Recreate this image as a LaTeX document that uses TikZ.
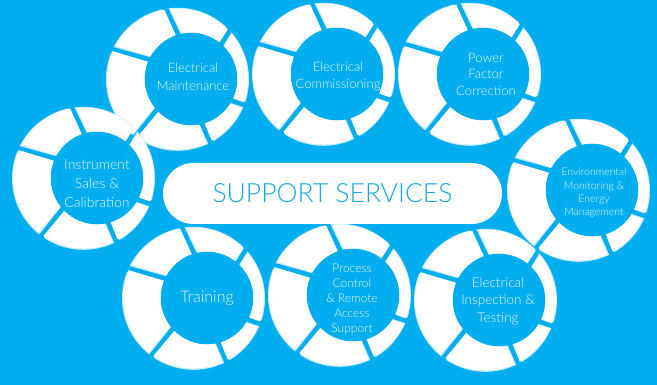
\documentclass[tikz,border=0pt]{standalone}
\usepackage{fontspec}
\setmainfont{Lato Light}
\definecolor{bgblue}{RGB}{0,174,239}
\definecolor{ringshadow}{RGB}{200,236,251}
\definecolor{ringtxt}{RGB}{230,246,253}
\definecolor{titleblue}{RGB}{26,167,224}

\begin{document}
\begin{tikzpicture}[x=1pt, y=1pt]
\tikzset{
  ringtext/.style={text=ringtxt, align=center, inner sep=0pt},
  pill/.style={
    fill=white, rounded corners=30.5pt,
    minimum width=339pt, minimum height=61pt,
    text=titleblue, font=\fontsize{26.5}{30}\selectfont
  },
  % six white segments, gaps at the listed angles
  ring/.pic={
    \foreach \sa/\sb in {156/107, 107/50, 50/-27, -27/-75, -75/-137, -137/-204}{
      \begin{scope}[rotate=1.2]
        \clip (0,0) -- ([shift={(\sa-90:3)}]\sa-3:40) -- ([shift={(\sa-90:3)}]\sa+3:95)
          -- ({(\sa+\sb)/2}:150) -- ([shift={(\sb+90:3)}]\sb+3:95) -- ([shift={(\sb+90:3)}]\sb-3:40) -- cycle;
        \fill[ringshadow, even odd rule] (-13.5,0) circle (71.5) (0,0) circle (46.5);
      \end{scope}
      \begin{scope}
        \clip (0,0) -- ([shift={(\sa-90:3)}]\sa-3:40) -- ([shift={(\sa-90:3)}]\sa+3:95)
          -- ({(\sa+\sb)/2}:150) -- ([shift={(\sb+90:3)}]\sb+3:95) -- ([shift={(\sb+90:3)}]\sb-3:40) -- cycle;
        \fill[white, even odd rule] (-13.5,0) circle (70.5) (0,0) circle (46.5);
      \end{scope}
    }
  }
}
\useasboundingbox (0,0) rectangle (657,-385);
\fill[bgblue] (0,0) rectangle (657,-385);

% rings
\pic at (191,-79)  {ring};
\pic at (337,-74)  {ring};
\pic at (483,-74)  {ring};
\pic at (97,-178)  {ring};
\pic at (592,-190) {ring};
\pic at (207,-298) {ring};
\pic at (353,-295) {ring};
\pic at (499,-300) {ring};

% labels
\node[ringtext, font=\fontsize{13}{18}\selectfont] (maint) at (193,-77) {Electrical\\Maintenance};
\node[ringtext, font=\fontsize{13}{17}\selectfont] (comm) at (338,-76) {Electrical\\Commissioning};
\node[ringtext, font=\fontsize{13}{16.5}\selectfont] (pfc) at (486,-74) {Power\\Factor\\Correction};
\node[ringtext, font=\fontsize{14}{19}\selectfont] (instr) at (97,-184) {Instrument\\Sales \&\\Calibration};
\node[ringtext, font=\fontsize{10.5}{13.3}\selectfont] (env) at (594,-193) {Environmental\\Monitoring \&\\Energy\\Management};
\node[ringtext, font=\fontsize{16}{19}\selectfont] (train) at (207,-298) {Training};
\node[ringtext, font=\fontsize{12}{15}\selectfont] (proc) at (352,-299) {Process\\Control\\\& Remote\\Access\\Support};
\node[ringtext, font=\fontsize{13.5}{17.5}\selectfont] (insp) at (498,-301) {Electrical\\Inspection \&\\Testing};

\node[pill] (title) at (332.5,-193.5) {SUPPORT SERVICES};
\end{tikzpicture}
\end{document}
